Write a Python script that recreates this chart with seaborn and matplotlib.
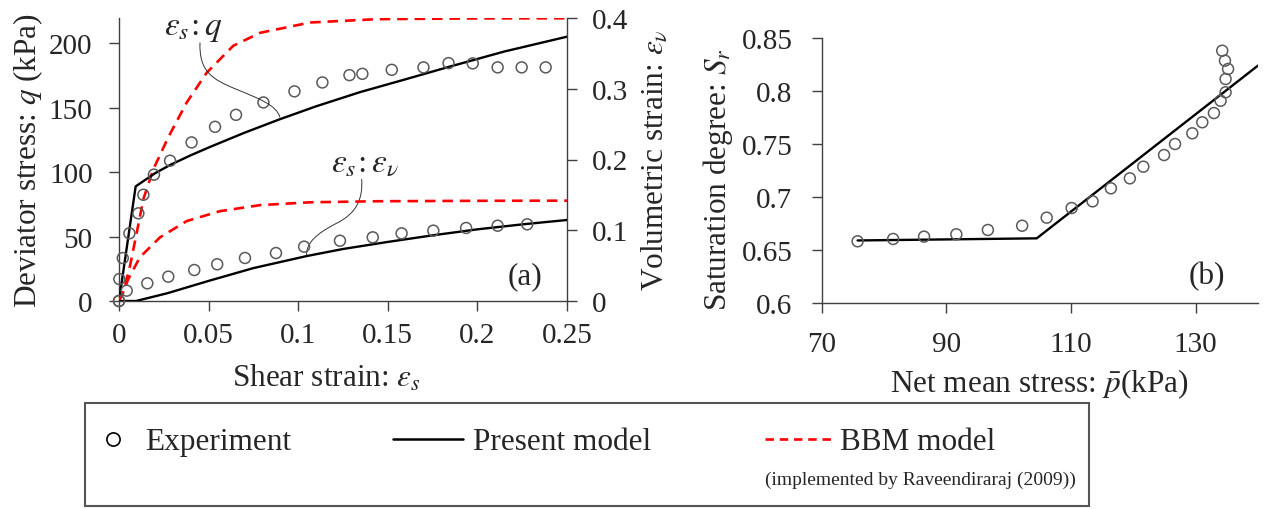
import matplotlib
matplotlib.use("Agg")
import matplotlib.pyplot as plt
from matplotlib.lines import Line2D
from matplotlib.patches import Rectangle, PathPatch
from matplotlib.path import Path
import seaborn as sns

# ---------------- data: (a) triaxial shearing ----------------
# experiment, shear strain vs deviator stress q (kPa)
exp_q_strain = [0.0, 0.0002, 0.0021, 0.0058, 0.0108, 0.0136, 0.0195, 0.0285, 0.0405,
                0.0536, 0.0653, 0.0806, 0.0979, 0.1135, 0.1286, 0.1358, 0.1522,
                0.1699, 0.1839, 0.1974, 0.2113, 0.2247, 0.2381]
exp_q = [0.0, 17.0, 33.3, 52.5, 68.0, 82.4, 98.0, 108.8, 123.0,
         135.1, 144.4, 154.0, 162.6, 169.5, 175.2, 176.2, 179.3,
         181.2, 184.5, 184.3, 181.2, 181.2, 181.2]

# experiment, shear strain vs volumetric strain
exp_v_strain = [0.0, 0.0043, 0.0158, 0.0275, 0.042, 0.0548, 0.0703, 0.0876, 0.1033,
                0.1233, 0.1416, 0.1577, 0.1754, 0.1937, 0.2113, 0.2278]
exp_v = [0.0, 0.0146, 0.025, 0.0344, 0.0438, 0.0519, 0.0608, 0.0678, 0.0768,
         0.0852, 0.090, 0.0956, 0.0994, 0.1032, 0.1064, 0.1084]

# present model
pm_q_strain = [0.0, 0.0093, 0.020, 0.0285, 0.040, 0.0508, 0.070, 0.0898, 0.110,
               0.1345, 0.160, 0.1838, 0.215, 0.25]
pm_q = [0.0, 88.9, 99.0, 105.5, 113.0, 119.5, 130.5, 141.0, 151.0,
        162.0, 172.0, 181.5, 193.5, 205.0]
pm_v_strain = [0.0, 0.0095, 0.027, 0.0508, 0.075, 0.1047, 0.125, 0.150, 0.175,
               0.200, 0.225, 0.25]
pm_v = [0.0, 0.0, 0.011, 0.029, 0.0465, 0.0635, 0.0735, 0.0835, 0.0928,
        0.1013, 0.1083, 0.1145]

# BBM model
bbm_q_strain = [0.0, 0.003, 0.0061, 0.0099, 0.0136, 0.0191, 0.0275, 0.0378, 0.0489,
                0.0638, 0.0787, 0.1066, 0.1438, 0.20, 0.25]
bbm_q = [0.0, 10.0, 27.0, 53.0, 79.0, 102.0, 127.0, 154.0, 177.0,
         198.0, 208.0, 216.0, 218.6, 219.2, 219.3]
bbm_v_strain = [0.0, 0.002, 0.005, 0.0117, 0.0229, 0.0378, 0.0564, 0.0787, 0.1066,
                0.1438, 0.20, 0.25]
bbm_v = [0.0, 0.010, 0.030, 0.062, 0.090, 0.113, 0.127, 0.1355, 0.1395,
         0.141, 0.1416, 0.1418]

q_ticks = [0, 50, 100, 150, 200]
v_ticks = [0, 0.1, 0.2, 0.3, 0.4]
v_tick_labels = ["0", "0.1", "0.2", "0.3", "0.4"]
s_ticks = [0, 0.05, 0.1, 0.15, 0.2, 0.25]
s_tick_labels = ["0", "0.05", "0.1", "0.15", "0.2", "0.25"]

# ---------------- data: (b) saturation degree ----------------
exp_p = [75.76, 81.46, 86.42, 91.6, 96.66, 102.16, 106.1, 110.1, 113.46, 116.4,
         119.44, 121.6, 124.93, 126.69, 129.46, 131.06, 132.93, 134.0, 134.8,
         134.8, 135.2, 134.7, 134.26]
exp_sr = [0.6582, 0.6604, 0.6626, 0.6648, 0.6689, 0.6729, 0.6805, 0.6896, 0.6959,
          0.7082, 0.7176, 0.7286, 0.7396, 0.750, 0.7601, 0.7705, 0.7792, 0.7908,
          0.7988, 0.8113, 0.8208, 0.8286, 0.838]
pm_p = [75.76, 104.5, 140.0]
pm_sr = [0.659, 0.661, 0.8240]

p_ticks = [70, 90, 110, 130]
sr_ticks = [0.6, 0.65, 0.7, 0.75, 0.8, 0.85]
sr_tick_labels = ["0.6", "0.65", "0.7", "0.75", "0.8", "0.85"]

# ---------------- style ----------------
sns.set_theme(style="ticks")
plt.rcParams["font.family"] = ["Liberation Serif", "DejaVu Serif"]
plt.rcParams["mathtext.fontset"] = "stix"
plt.rcParams["axes.edgecolor"] = "#404040"
plt.rcParams["axes.linewidth"] = 1.0

W, H = 1264, 510
fig = plt.figure(figsize=(W / 100, H / 100), dpi=100)
fig.patch.set_facecolor("white")

TICK_FS = 21
LABEL_FS = 22.5
EXP_KW = dict(marker="o", s=62, facecolor="none", edgecolor="#5a5a5a",
              linewidth=1.1, clip_on=False, zorder=4)
RED = "#ff0000"
DASH = (0, (4, 2.6))

# ---------------- panel (a) ----------------
ax = fig.add_axes([119 / W, 1 - 302 / H, 448 / W, 283 / H])
axv = ax.twinx()

sns.lineplot(x=bbm_q_strain, y=bbm_q, ax=ax, color=RED, lw=1.9, linestyle=DASH,
             sort=False, estimator=None, zorder=2)
sns.lineplot(x=pm_q_strain, y=pm_q, ax=ax, color="black", lw=1.7,
             sort=False, estimator=None, zorder=3)
sns.scatterplot(x=exp_q_strain, y=exp_q, ax=ax, **EXP_KW)

sns.lineplot(x=bbm_v_strain, y=bbm_v, ax=axv, color=RED, lw=1.9, linestyle=DASH,
             sort=False, estimator=None, zorder=2)
sns.lineplot(x=pm_v_strain, y=pm_v, ax=axv, color="black", lw=1.7,
             sort=False, estimator=None, zorder=3)
sns.scatterplot(x=exp_v_strain, y=exp_v, ax=axv, **EXP_KW)

ax.set_xlim(0, 0.25)
ax.set_ylim(0, 219.5)
axv.set_ylim(0, 0.4)
ax.set_xticks(s_ticks)
ax.set_xticklabels(s_tick_labels)
ax.set_yticks(q_ticks)
ax.set_yticklabels([str(t) for t in q_ticks])
axv.set_yticks(v_ticks)
axv.set_yticklabels(v_tick_labels)

for a in (ax, axv):
    a.spines["top"].set_visible(False)
ax.spines["right"].set_visible(False)
axv.spines["left"].set_visible(False)
axv.spines["bottom"].set_visible(False)

ax.tick_params(axis="y", direction="out", length=7, width=1, pad=12,
               labelsize=TICK_FS, color="#404040")
ax.tick_params(axis="x", direction="out", length=7, width=1, pad=8,
               labelsize=TICK_FS, color="#404040")
axv.tick_params(axis="y", direction="out", length=7, width=1, pad=11,
                labelsize=TICK_FS, color="#404040")

ax.set_xlabel(r"Shear strain: $\varepsilon_s$", fontsize=LABEL_FS)
ax.xaxis.set_label_coords(0.462, -0.216)
ax.set_ylabel(r"Deviator stress: $q$ (kPa)", fontsize=LABEL_FS)
ax.yaxis.set_label_coords(-0.165, 0.5)
axv.set_ylabel(r"Volumetric strain: $\varepsilon_\nu$", fontsize=LABEL_FS)
axv.yaxis.set_label_coords(1.163, 0.5)

# curve labels with their leader lines
ax.text(0.0413, 212.0, r"$\varepsilon_s\!:q$", fontsize=24, ha="center", va="center")
ax.text(0.1373, 108.0, r"$\varepsilon_s\!:\varepsilon_\nu$", fontsize=24,
        ha="center", va="center")
lead_q = Path([(0.0452, 200.5), (0.0446, 178.0), (0.052, 172.0), (0.065, 164.5),
               (0.078, 157.0), (0.088, 152.0), (0.0898, 142.4)],
              [Path.MOVETO] + [Path.CURVE4] * 6)
lead_v = Path([(0.1354, 94.6), (0.1362, 80.0), (0.133, 68.0), (0.121, 60.0),
               (0.110, 52.0), (0.1045, 45.0), (0.1047, 35.7)],
              [Path.MOVETO] + [Path.CURVE4] * 6)
for pth in (lead_q, lead_v):
    ax.add_patch(PathPatch(pth, facecolor="none", edgecolor="#333333", lw=0.7, zorder=5))

ax.text(0.906, 0.088, "(a)", transform=ax.transAxes, fontsize=LABEL_FS,
        ha="center", va="center")

# ---------------- panel (b) ----------------
ax2 = fig.add_axes([821.7 / W, 1 - 304 / H, 436.3 / W, 265 / H])
sns.lineplot(x=pm_p, y=pm_sr, ax=ax2, color="black", lw=1.7,
             sort=False, estimator=None, zorder=3)
sns.scatterplot(x=exp_p, y=exp_sr, ax=ax2, **EXP_KW)
ax2.set_xlim(70, 140)
ax2.set_ylim(0.6, 0.85)
ax2.set_xticks(p_ticks)
ax2.set_xticklabels([str(t) for t in p_ticks])
ax2.set_yticks(sr_ticks)
ax2.set_yticklabels(sr_tick_labels)
ax2.spines["top"].set_visible(False)
ax2.spines["right"].set_visible(False)
ax2.tick_params(axis="y", direction="out", length=7, width=1, pad=14,
                labelsize=TICK_FS, color="#404040")
ax2.tick_params(axis="x", direction="out", length=7, width=1, pad=13,
                labelsize=TICK_FS, color="#404040")
ax2.set_xlabel(r"Net mean stress: $\bar{p}$(kPa)", fontsize=LABEL_FS)
ax2.xaxis.set_label_coords(0.498, -0.238)
ax2.set_ylabel(r"Saturation degree: $S_r$", fontsize=LABEL_FS)
ax2.yaxis.set_label_coords(-0.199, 0.468)
ax2.text(0.883, 0.102, "(b)", transform=ax2.transAxes, fontsize=LABEL_FS,
         ha="center", va="center")

# ---------------- legend box ----------------
fig.patches.append(Rectangle((85 / W, 3 / H), (1089 - 85) / W, (507 - 404) / H,
                             transform=fig.transFigure, facecolor="none",
                             edgecolor="#555555", lw=1.5, zorder=0))
row_y = 1 - 443 / H
LEG_FS = 22.5
leg_kw = dict(loc="center left", frameon=False, fontsize=LEG_FS, borderpad=0,
              borderaxespad=0)
fig.legend(handles=[Line2D([], [], marker="o", ls="none", mfc="none", mec="black",
                           ms=9.5, mew=1.2)],
           labels=["Experiment"], bbox_to_anchor=(91 / W, row_y),
           handlelength=1.4, handletextpad=0.32, **leg_kw)
fig.legend(handles=[Line2D([], [], color="black", lw=1.8)],
           labels=["Present model"], bbox_to_anchor=(393 / W, row_y),
           handlelength=2.24, handletextpad=0.32, **leg_kw)
fig.legend(handles=[Line2D([], [], color=RED, lw=1.9, ls=(0, (3.2, 2.2)))],
           labels=["BBM model"], bbox_to_anchor=(765 / W, row_y),
           handlelength=2.14, handletextpad=0.26, **leg_kw)
fig.text(765 / W, 1 - 480 / H, "(implemented by Raveendiraraj (2009))",
         fontsize=14, ha="left", va="center")

fig.savefig("out.png", dpi=100, facecolor="white")
